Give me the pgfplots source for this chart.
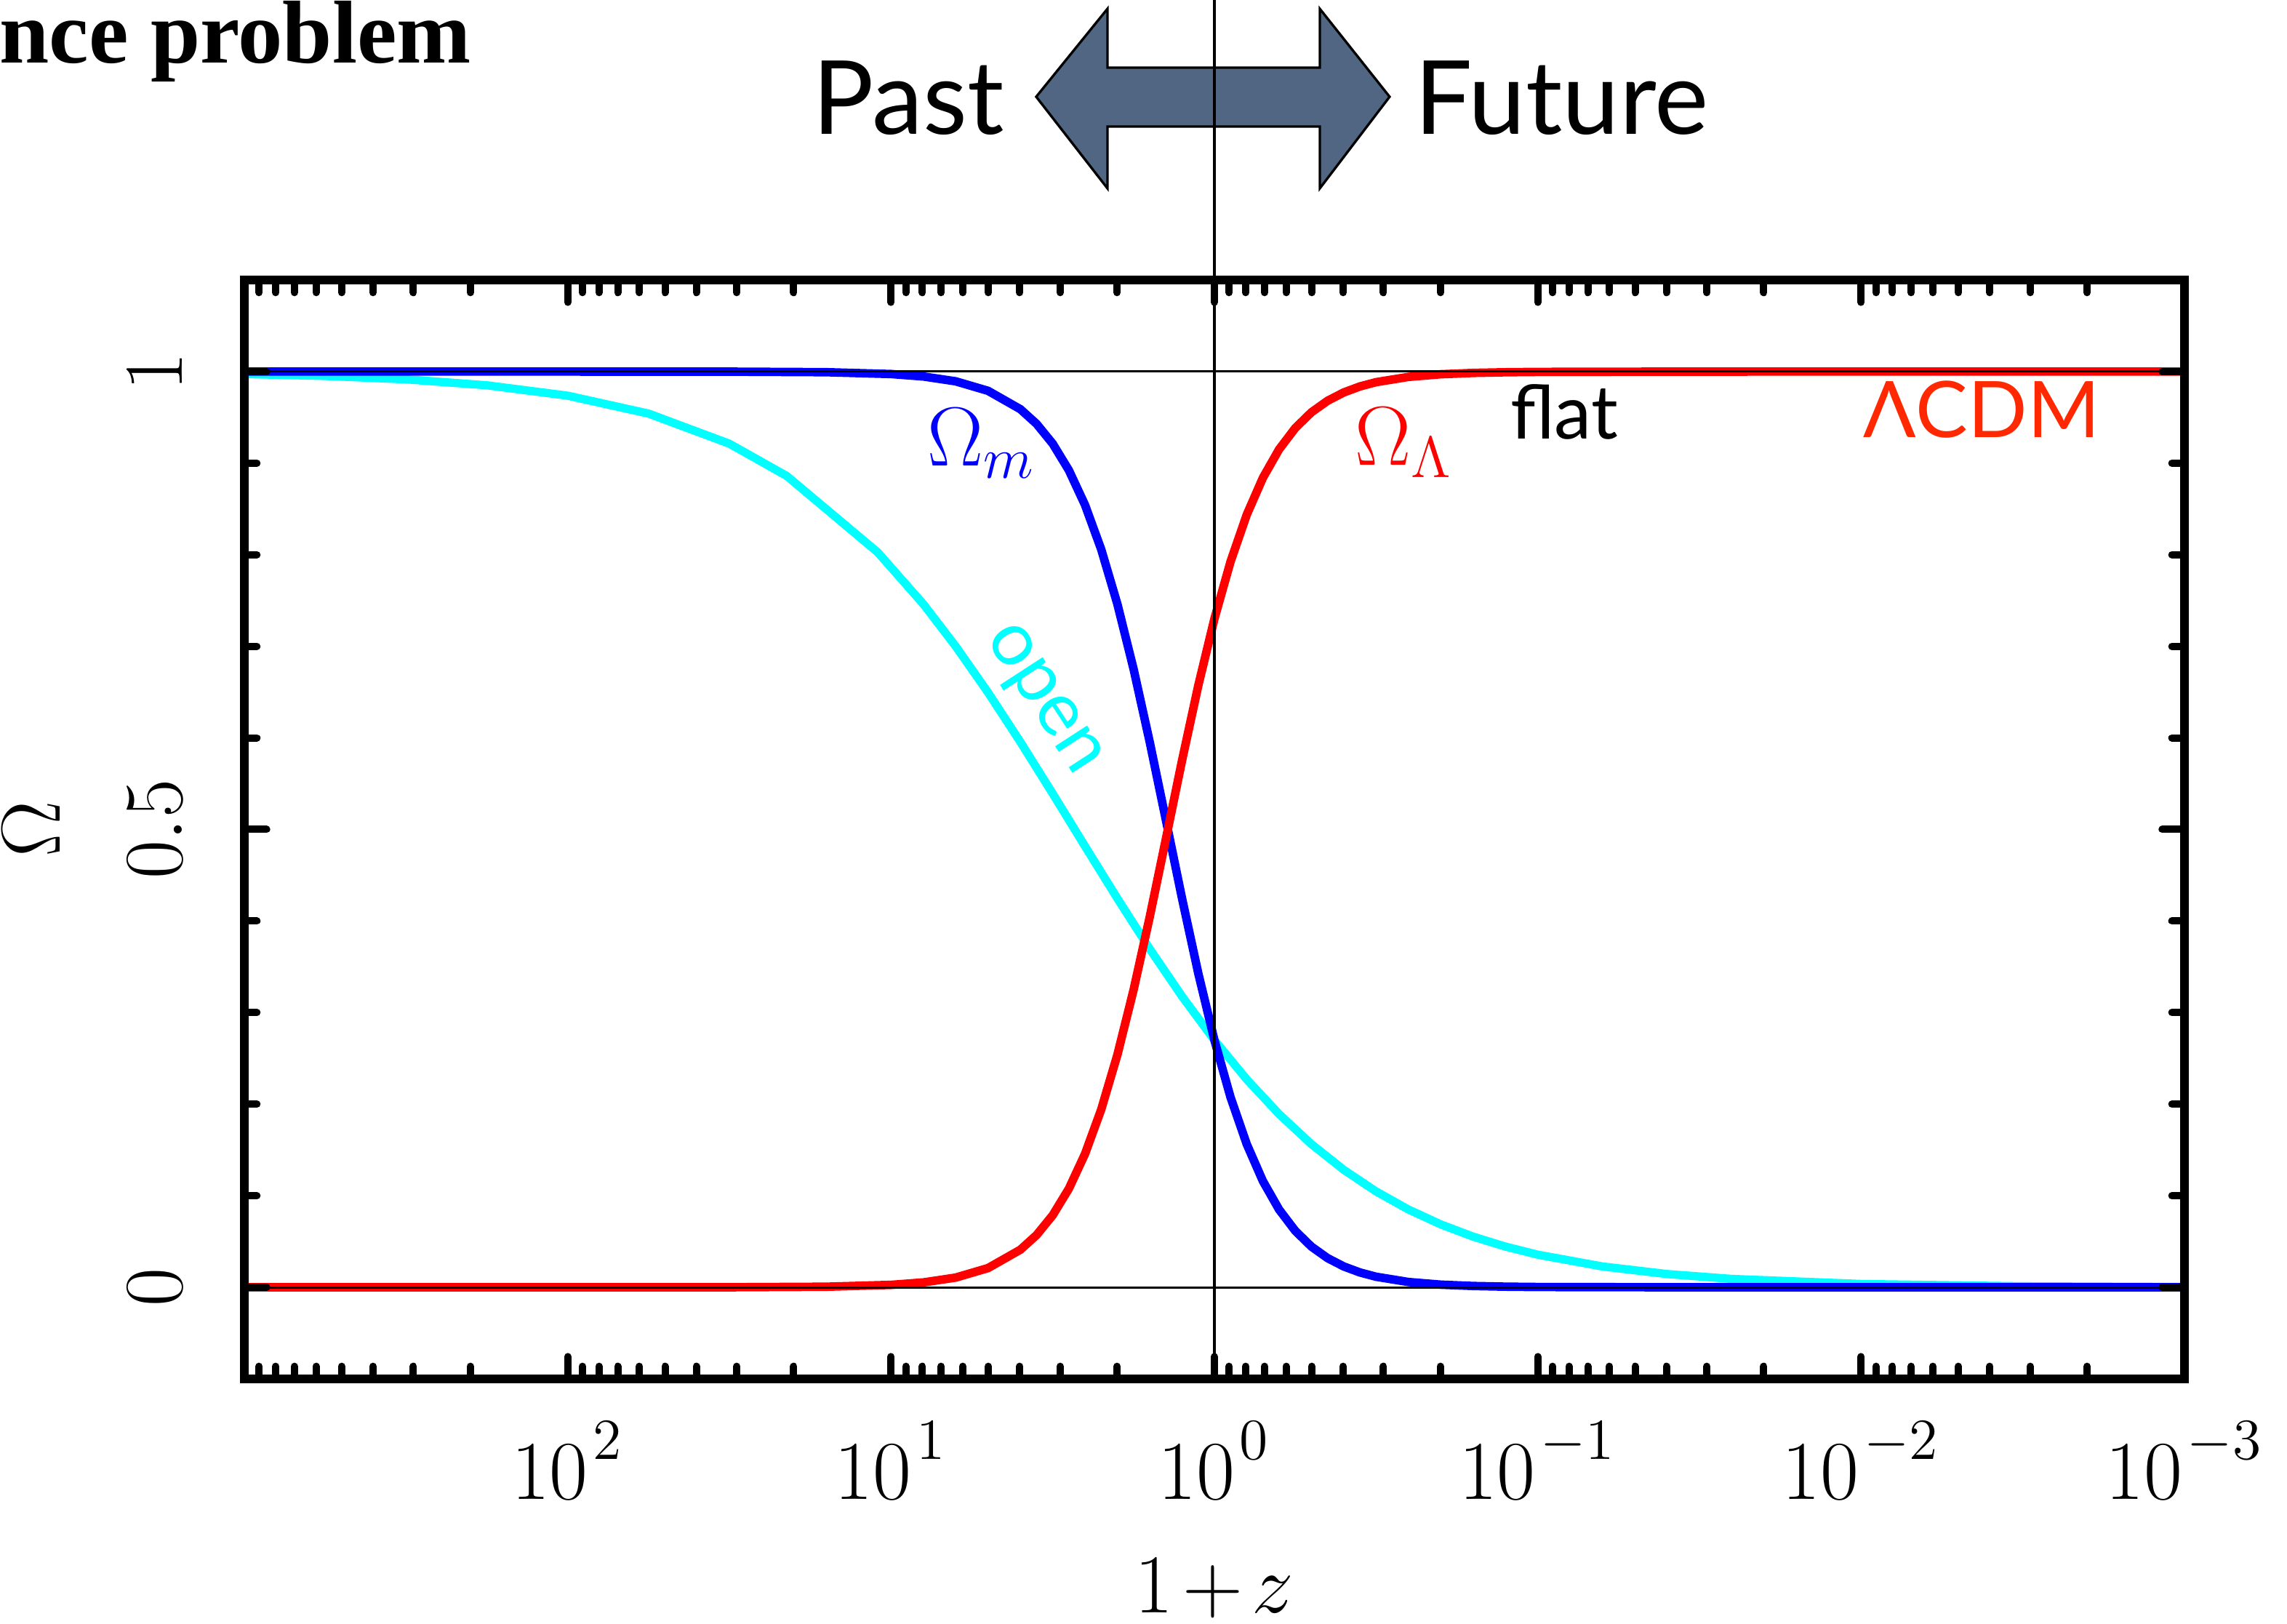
\documentclass[border=0pt]{standalone}
\usepackage{pgfplots}
\pgfplotsset{compat=1.18}
\usepackage{pgfplotstable}
\usepackage{fontspec}
\newfontfamily\lato{Lato}
\newfontfamily\libserif{Liberation Serif}
\definecolor{arrowfill}{RGB}{81,102,130}
\definecolor{lcdm}{RGB}{255,40,0}
\definecolor{cyanc}{RGB}{0,255,255}
\definecolor{bluec}{RGB}{0,0,255}
\definecolor{redc}{RGB}{255,0,0}
\newcommand{\sx}[1]{10^{\raisebox{2.1pt}{\hspace{1pt}$\scriptstyle #1$}}}

% Flat LambdaCDM: 1+z, Omega_m, Omega_Lambda
\pgfplotstableread{
x om ol
1000 1.00000 0.00000
316.23 1.00000 0.00000
100 1.00000 0.00000
31.623 0.99991 0.00009
15.849 0.99932 0.00068
10 0.99730 0.00270
7.9433 0.99463 0.00537
6.3096 0.98935 0.01065
5.0119 0.97897 0.02103
3.9811 0.95891 0.04109
3.5481 0.94292 0.05708
3.1623 0.92123 0.07877
2.8184 0.89224 0.10776
2.5119 0.85425 0.14575
2.2387 0.80581 0.19419
1.9953 0.74604 0.25396
1.7783 0.67529 0.32471
1.5849 0.59552 0.40448
1.4125 0.51036 0.48964
1.2589 0.42460 0.57540
1.1220 0.34314 0.65686
1 0.27000 0.73000
0.89125 0.20750 0.79250
0.79433 0.15637 0.84363
0.70795 0.11600 0.88400
0.63096 0.08500 0.91500
0.56234 0.06171 0.93829
0.50119 0.04449 0.95551
0.44668 0.03191 0.96809
0.39811 0.02280 0.97720
0.35481 0.01625 0.98375
0.31623 0.01156 0.98844
0.25119 0.00583 0.99417
0.19953 0.00293 0.99707
0.15849 0.00147 0.99853
0.12589 0.00074 0.99926
0.1 0.00037 0.99963
0.031623 0.00001 0.99999
0.01 0.00000 1.00000
0.001 0.00000 1.00000
}\flat

% Open universe: 1+z, Omega_m
\pgfplotstableread{
x om
1000 0.99730
562.34 0.99522
316.23 0.99152
177.83 0.98502
100 0.97367
56.234 0.95413
31.623 0.92124
21 0.88594
11 0.80270
7.9433 0.74606
6.3096 0.70000
5.0119 0.64958
3.9811 0.59552
3.1623 0.53909
2.5119 0.48158
1.9953 0.42462
1.5849 0.36953
1.2589 0.31770
1 0.27000
0.79433 0.22708
0.63096 0.18920
0.50119 0.15638
0.39811 0.12834
0.31623 0.10471
0.25119 0.08500
0.19953 0.06873
0.15849 0.05537
0.12589 0.04449
0.1 0.03566
0.063096 0.02280
0.039811 0.01451
0.025119 0.00920
0.01 0.00368
0.0031623 0.00117
0.001 0.00037
}\open

\begin{document}
\begin{tikzpicture}
\begin{axis}[
  at={(0,0)}, anchor=south west,
  scale only axis, width=400.2pt, height=226.65pt,
  xmode=log, x dir=reverse,
  xmin=1e-3, xmax=1e3, ymin=-0.1, ymax=1.1,
  xtick={1e-3,1e-2,1e-1,1,1e1,1e2,1e3},
  xticklabels={$\sx{-3}$,$\sx{-2}$,$\sx{-1}$,$\sx{0}$,$\sx{1}$,$\sx{2}$,},
  minor xtick={0.002,0.003,0.004,0.005,0.006,0.007,0.008,0.009,
               0.02,0.03,0.04,0.05,0.06,0.07,0.08,0.09,
               0.2,0.3,0.4,0.5,0.6,0.7,0.8,0.9,
               2,3,4,5,6,7,8,9,
               20,30,40,50,60,70,80,90,
               200,300,400,500,600,700,800,900},
  ytick={0,0.5,1},
  yticklabels={$0$,$0.5$,$1$},
  minor ytick={0.1,0.2,0.3,0.4,0.6,0.7,0.8,0.9},
  tick align=inside,
  axis on top,
  axis line style={line width=1.7pt},
  tick style={black, line width=1.5pt, line cap=round},
  major tick length=4.6pt, minor tick length=2.6pt,
  tick label style={font=\fontsize{16.6}{19}\selectfont},
  xticklabel style={anchor=base}, xticklabel shift=24.9pt,
  yticklabel style={rotate=90, anchor=base}, yticklabel shift=12.75pt,
  label style={font=\fontsize{16.5}{19}\selectfont},
  xlabel={$1\mskip-2mu+\mskip-2mu z$},
  xlabel style={at={(axis description cs:0.5,0)}, anchor=base, yshift=-48.2pt},
  ylabel={$\Omega$},
  ylabel style={at={(axis description cs:-0.0950,0.5)}, anchor=base},
]
\addplot[cyanc, line width=1.7pt] table[x=x, y=om] {\open};
\addplot[bluec, line width=1.75pt] table[x=x, y=om] {\flat};
\addplot[redc, line width=1.75pt] table[x=x, y=ol] {\flat};
\draw[black, line width=0.45pt] (axis cs:1e-3,1) -- (axis cs:1e3,1);
\draw[black, line width=0.45pt] (axis cs:1e-3,0) -- (axis cs:1e3,0);
\end{axis}

\begin{scope}[x=0.15pt, y=-0.15pt, shift={(-336,-1896)}]
  % title (cut off at the left edge)
  \node[anchor=base west, inner sep=0, font=\libserif\bfseries\fontsize{18.4}{20}\selectfont] at (-2,86) {nce problem};
  % double arrow
  \filldraw[fill=arrowfill, draw=black, line width=0.5pt, line join=miter]
    (1425,133) -- (1523,12) -- (1523,93) -- (1815,93) -- (1815,12) -- (1911,133)
    -- (1815,259) -- (1815,174) -- (1523,174) -- (1523,259) -- cycle;
  \draw[black, line width=0.6pt] (1670,0) -- (1670,1896);
  \node[anchor=base east, inner sep=0, font=\lato\fontsize{21.1}{24}\selectfont] at (1382,184) {Past};
  \node[anchor=base west, inner sep=0, font=\lato\fontsize{21.1}{24}\selectfont] at (1944,184) {Future};
  % curve labels
  \node[anchor=base west, inner sep=0, text=bluec, font=\fontsize{17.5}{20}\selectfont] at (1274,640) {$\Omega_m$};
  \node[anchor=base west, inner sep=0, text=redc, font=\fontsize{17.5}{20}\selectfont] at (1862,639) {$\Omega_\Lambda$};
  \node[anchor=base west, inner sep=0, font=\lato\fontsize{15.4}{18}\selectfont] at (2076,603) {flat};
  \node[anchor=base west, inner sep=0, text=lcdm, font=\lato\fontsize{16.1}{18}\selectfont] at (2561,601) {ΛCDM};
  \node[anchor=base, inner sep=0, rotate=-57, text=cyanc, font=\lato\fontsize{15.5}{18}\selectfont] at (1417,973) {open};
\end{scope}

\pgfresetboundingbox
\useasboundingbox (-50.4pt,-50.55pt) rectangle (421.35pt,284.4pt);
\end{tikzpicture}
\end{document}
